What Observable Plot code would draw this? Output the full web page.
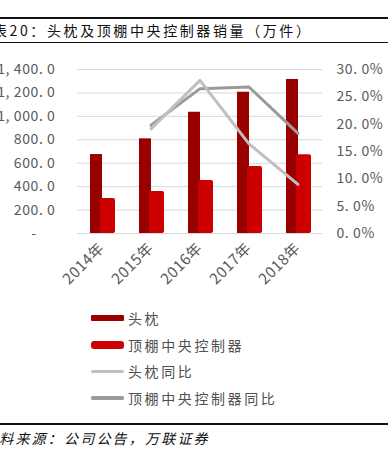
<!DOCTYPE html>
<html><head><meta charset="utf-8">
<script src="https://cdn.jsdelivr.net/npm/d3@7"></script>
<script src="https://cdn.jsdelivr.net/npm/@observablehq/plot@0.6"></script>
<style>
body{margin:0;width:388px;height:450px;position:relative;overflow:hidden;background:#fff;font-family:"Noto Sans CJK SC","Noto Sans",sans-serif;}
#title{position:absolute;left:0;top:17px;width:388px;height:23px;border-top:2px solid #111;border-bottom:1.5px solid #111;}
#title span{position:absolute;left:-7px;top:0;line-height:23px;font-size:14px;letter-spacing:2.6px;color:#111;white-space:nowrap;}
#chart{position:absolute;left:0;top:46px;}
#legend{position:absolute;left:91px;top:305px;}
.row{position:absolute;left:0;height:26px;width:260px;}
.sw{position:absolute;left:0;width:33px;}
.lab{position:absolute;left:37px;top:0;line-height:26px;font-size:14px;letter-spacing:2.6px;color:#505050;white-space:nowrap;}
#foot{position:absolute;left:0;top:423px;width:388px;border-top:2px solid #111;}
#foot span{position:absolute;left:-17px;top:2px;line-height:22px;font-size:14px;letter-spacing:2.2px;font-style:italic;color:#111;white-space:nowrap;}
#chart svg g[aria-label="y-axis tick label"] text, #chart svg g[aria-label="x-axis tick label"] text{letter-spacing:0.6px;}
</style></head>
<body>
<div id="title"><span>表20：头枕及顶棚中央控制器销量（万件）</span></div>
<div id="chart"></div>
<div id="legend"></div>
<div id="foot"><span>资料来源：公司公告，万联证券</span></div>
<script>
const years = ["2014年", "2015年", "2016年", "2017年", "2018年"];
const headrest = [674, 808, 1035, 1206, 1315];
const consoleUnit = [299, 358, 452, 572, 672];
const headrestYoY = [null, 0.1915, 0.280, 0.164, 0.090];
const consoleYoY = [null, 0.198, 0.265, 0.268, 0.183];
const leftTicks = [0, 200, 400, 600, 800, 1000, 1200, 1400];
const rightTicks = [0, 0.05, 0.10, 0.15, 0.20, 0.25, 0.30];
const seriesNames = ["头枕", "顶棚中央控制器", "头枕同比", "顶棚中央控制器同比"];
const colors = ["#990000", "#cc0000", "#bfbfbf", "#9a9a9a"];

const k = 1400 / 0.30;
const rows = years.map((y, i) => ({year: y, h: headrest[i], c: consoleUnit[i], hy: headrestYoY[i], cy: consoleYoY[i]}));
const hLine = rows.filter(d => d.hy != null);
const cLine = rows.filter(d => d.cy != null);

const fmtLeft = v => v === 0 ? "-\u00a0\u00a0\u00a0\u00a0\u00a0" : d3.format(",.1f")(v).replace(/,/g, ", ").replace(/\./g, ". ");
const fmtRight = v => d3.format(".1%")(Math.round(v / k * 1000) / 1000).replace(/\./g, ". ");

const chart = Plot.plot({
  width: 388, height: 254,
  marginLeft: 77, marginRight: 66, marginTop: 23, marginBottom: 67,
  style: {fontFamily: "'Noto Sans CJK SC','Noto Sans',sans-serif", fontSize: "14px", color: "#595959", background: "transparent"},
  x: {domain: years, padding: 0, label: null},
  y: {domain: [0, 1400], label: null},
  marks: [
    Plot.gridY(leftTicks, {stroke: "#d9d9d9", strokeOpacity: 1}),
    Plot.barY(rows, {x: "year", y: "h", fill: colors[0], insetLeft: 13, insetRight: 24}),
    Plot.barY(rows, {x: "year", y: "c", fill: colors[1], insetLeft: 23, insetRight: 11, rx: 2}),
    Plot.line(cLine, {x: "year", y: d => d.cy * k, stroke: colors[3], strokeWidth: 3}),
    Plot.line(hLine, {x: "year", y: d => d.hy * k, stroke: colors[2], strokeWidth: 3}),
    Plot.axisY(leftTicks, {anchor: "left", tickSize: 0, tickPadding: 22, tickFormat: fmtLeft, label: null}),
    Plot.axisY(rightTicks.map(p => p * k), {anchor: "right", tickSize: 0, tickPadding: 14, tickFormat: fmtRight, label: null}),
    Plot.axisX({tickRotate: -45, tickSize: 0, tickPadding: 12, fontSize: 15, label: null})
  ]
});
document.getElementById("chart").appendChild(chart);

const legend = document.getElementById("legend");
const swStyles = [
  {h: 6, r: 1}, {h: 8, r: 3}, {h: 3, r: 1.5}, {h: 3.5, r: 1.5}
];
seriesNames.forEach((name, i) => {
  const row = document.createElement("div");
  row.className = "row";
  row.style.top = (i * 26.7) + "px";
  const sw = document.createElement("div");
  sw.className = "sw";
  sw.style.height = swStyles[i].h + "px";
  sw.style.top = (13 - swStyles[i].h / 2) + "px";
  sw.style.background = colors[i];
  sw.style.borderRadius = swStyles[i].r + "px";
  const lab = document.createElement("div");
  lab.className = "lab";
  lab.textContent = name;
  row.appendChild(sw); row.appendChild(lab);
  legend.appendChild(row);
});
</script>
</body></html>
